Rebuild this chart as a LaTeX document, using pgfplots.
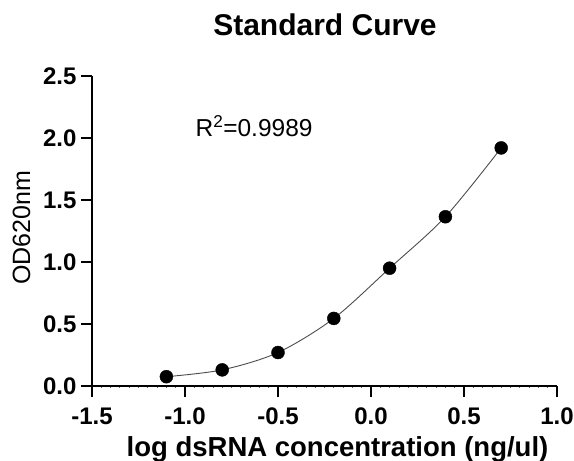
\documentclass[border=0pt]{standalone}
\usepackage{fontspec}
\setmainfont{Liberation Sans}
\usepackage{pgfplots}
\pgfplotsset{compat=1.18}

\pgfplotstableread{
x     y
-1.1  0.075
-0.8  0.13
-0.5  0.27
-0.2  0.545
0.1   0.95
0.4   1.365
0.7   1.92
}\stdcurve

\begin{document}
\begin{tikzpicture}
\begin{axis}[
    name=ax,
    at={(0,0)}, anchor=south west,
    scale only axis,
    width=465bp, height=310bp,
    xmin=-1.5, xmax=1.0, ymin=0, ymax=2.5,
    axis lines=left,
    axis line style={-, line width=2.2bp},
    xtick={-1.5,-1,-0.5,0,0.5,1},
    ytick={0,0.5,1,1.5,2,2.5},
    tick align=outside,
    major tick length=11bp,
    minor tick length=2bp,
    minor x tick num=9,
    major tick style={line width=2.2bp, black},
    minor tick style={line width=0.8bp, black!60},
    /pgf/number format/assume math mode=true,
    /pgf/number format/.cd, fixed, fixed zerofill, precision=1,
    /pgfplots/.cd,
    tick label style={font=\fontsize{24bp}{28bp}\selectfont\bfseries},
    xticklabel style={anchor=north, yshift=-7bp},
    yticklabel style={anchor=east, xshift=-1bp},
    title={Standard Curve},
    title style={font=\fontsize{30bp}{34bp}\selectfont\bfseries, anchor=base,
        at={(axis description cs:0.501,1.11)}},
    xlabel={log dsRNA concentration (ng/ul)},
    xlabel style={font=\fontsize{27.5bp}{32bp}\selectfont\bfseries, anchor=base,
        at={(axis description cs:0.528,-0.228)}},
    ylabel={OD620nm},
    ylabel style={font=\fontsize{25bp}{29bp}\selectfont, anchor=base, rotate=0,
        at={(axis description cs:-0.1333,0.51)}},
    clip=false,
]
\addplot[smooth, tension=0.5, line width=0.9bp, black!70] table[x=x, y=y] {\stdcurve};
\addplot[only marks, mark=*, mark size=6.5bp, mark options={fill=black, draw=black}] table[x=x, y=y] {\stdcurve};
\node[anchor=base west, font=\fontsize{24.5bp}{28bp}\selectfont] at (axis cs:-0.962,2.015) {R\textsuperscript{2}=0.9989};
\end{axis}
\pgfresetboundingbox
\path (-92bp,-75bp) rectangle (482bp,386bp);
\end{tikzpicture}
\end{document}
